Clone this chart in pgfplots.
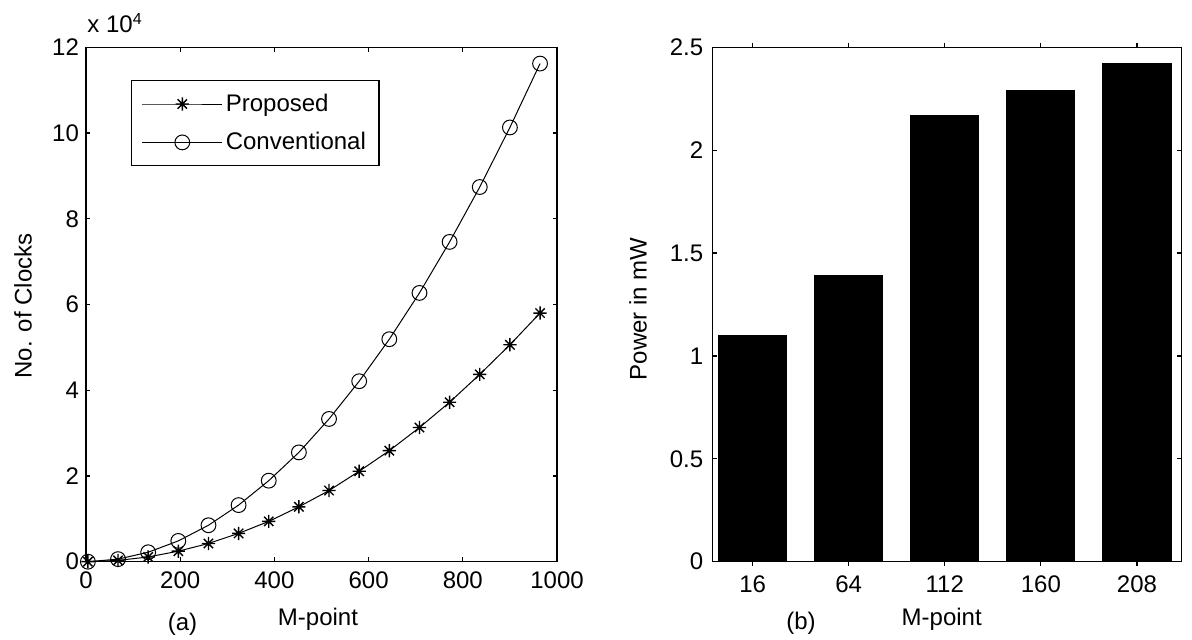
\documentclass[border=0pt]{standalone}
\usepackage{pgfplots}
\pgfplotsset{compat=1.18}
\usepackage{fontspec}
\setmainfont{Liberation Sans}

% MATLAB-style eight-armed star
\pgfdeclareplotmark{mstar}{%
  \pgfpathmoveto{\pgfpoint{0pt}{\pgfplotmarksize}}%
  \pgfpathlineto{\pgfpoint{0pt}{-\pgfplotmarksize}}%
  \pgfpathmoveto{\pgfpoint{\pgfplotmarksize}{0pt}}%
  \pgfpathlineto{\pgfpoint{-\pgfplotmarksize}{0pt}}%
  \pgfpathmoveto{\pgfpoint{0.707\pgfplotmarksize}{0.707\pgfplotmarksize}}%
  \pgfpathlineto{\pgfpoint{-0.707\pgfplotmarksize}{-0.707\pgfplotmarksize}}%
  \pgfpathmoveto{\pgfpoint{0.707\pgfplotmarksize}{-0.707\pgfplotmarksize}}%
  \pgfpathlineto{\pgfpoint{-0.707\pgfplotmarksize}{0.707\pgfplotmarksize}}%
  \pgfusepathqstroke}

\pgfplotsset{
  every axis/.append style={
    font=\fontsize{12}{14}\selectfont,
    /pgf/number format/assume math mode=true,
    /pgf/number format/1000 sep={},
    scale only axis,
    anchor=south west,
    axis line style={black, line width=0.6pt},
    tick style={black, line width=0.6pt},
    major tick length=2.2pt,
    tick align=inside,
    scaled x ticks=false,
    scaled y ticks=false,
  },
}

\begin{document}
\begin{tikzpicture}[every node/.style={font=\fontsize{12}{14}\selectfont}]
\path[use as bounding box] (0,0) rectangle (596pt,320pt);

% (a) number of clocks
\begin{axis}[
  at={(43pt,39.15pt)},
  width=235.5pt, height=257.2pt,
  xmin=0, xmax=1000, ymin=0, ymax=120000,
  xtick={0,200,...,1000},
  ytick={0,20000,40000,60000,80000,100000,120000},
  yticklabels={0,2,4,6,8,10,12},
  xticklabel style={yshift=-1.5pt},
  legend style={
    at={(0.096,0.936)}, anchor=north west,
    draw=black, line width=0.6pt,
    inner xsep=5pt, inner ysep=5pt,
    row sep=6pt,
    nodes={inner sep=1.5pt},
    font=\fontsize{12}{14}\selectfont,
  },
  legend cell align=left,
  legend image code/.code={
    \draw[#1, mark repeat=2, mark phase=2]
      plot coordinates {(0pt,0pt) (20pt,0pt) (40pt,0pt)};
  },
]
\addplot[black, line width=0.5pt, mark=mstar, mark size=3.3pt, mark options={line width=0.7pt}]
  coordinates {
  (4,0) (68,300) (132,1100) (196,2450) (260,4250) (324,6600)
  (388,9400) (452,12800) (516,16600) (580,21100) (644,25900)
  (708,31300) (772,37200) (836,43700) (900,50600) (964,58000)};
\addlegendentry{Proposed}
\addplot[black, line width=0.5pt, mark=o, mark size=3.7pt]
  coordinates {
  (4,0) (68,600) (132,2200) (196,4850) (260,8500) (324,13200)
  (388,18900) (452,25500) (516,33300) (580,42100) (644,51900)
  (708,62700) (772,74600) (836,87400) (900,101300) (964,116200)};
\addlegendentry{Conventional}
\end{axis}

% (b) power
\begin{axis}[
  at={(356.15pt,39.15pt)},
  width=234.4pt, height=257.2pt,
  ybar, bar width=0.71,
  xmin=0.58, xmax=5.46, ymin=0, ymax=2.5,
  xtick={1,2,3,4,5},
  xticklabels={16,64,112,160,208},
  ytick={0,0.5,1,1.5,2,2.5},
  yticklabels={0,0.5,1,1.5,2,2.5},
  xticklabel style={yshift=-1.5pt},
  yticklabel style={xshift=-1pt},
]
\addplot[fill=black, draw=black, line width=0.5pt]
  coordinates {(1,1.10) (2,1.39) (3,2.17) (4,2.29) (5,2.42)};
\end{axis}

% labels
\node[anchor=base west, inner sep=0pt] at (43.5pt,303.5pt) {x 10\textsuperscript{4}};
\node[anchor=base, rotate=90, inner sep=0pt] at (15.85pt,167pt) {No. of Clocks};
\node[anchor=base, rotate=90, inner sep=0pt] at (323.35pt,165.5pt) {Power in mW};
\node[anchor=base, inner sep=0pt] at (159pt,7pt) {M-point};
\node[anchor=base, inner sep=0pt] at (91.25pt,4.5pt) {(a)};
\node[anchor=base, inner sep=0pt] at (470.85pt,7pt) {M-point};
\node[anchor=base, inner sep=0pt] at (400.5pt,5pt) {(b)};
\end{tikzpicture}
\end{document}
